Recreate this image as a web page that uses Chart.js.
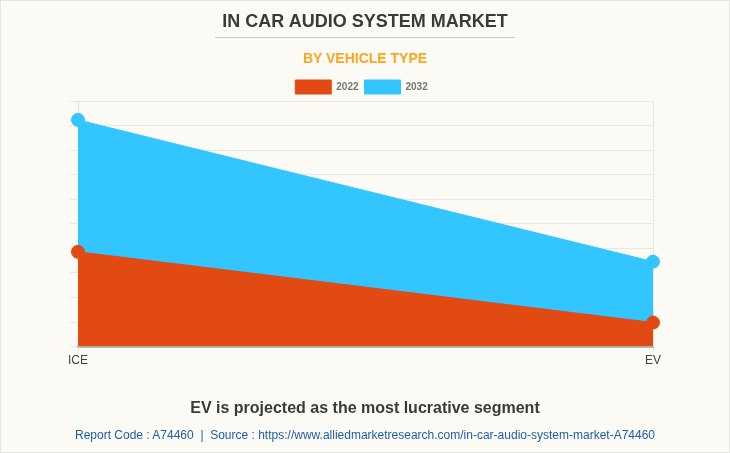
<!DOCTYPE html>
<html>
<head>
<meta charset="utf-8">
<title>In Car Audio System Market</title>
<script src="https://cdn.jsdelivr.net/npm/chart.js@4"></script>
<style>
  html, body { margin: 0; padding: 0; background: #fbfaf5; }
  #page { position: relative; width: 730px; height: 453px; box-sizing: border-box; border: 1px solid #e4e4e4; overflow: hidden; font-family: "Liberation Sans", Arial, sans-serif; }
  #chartWrap { position: absolute; left: -1px; top: -1px; width: 730px; height: 453px; }
  .line { position: absolute; left: 0; width: 728px; text-align: center; white-space: nowrap; }
  #title { top: 10px; font-size: 18px; font-weight: bold; color: #3a3a3a; }
  #rule { position: absolute; left: 214px; top: 36px; width: 300px; height: 1px; background: #cfcdc8; }
  #subtitle { top: 49px; font-size: 14px; font-weight: bold; color: #faa71e; }
  #note { top: 398px; font-size: 16px; font-weight: bold; color: #3a3a3a; }
  #source { top: 427px; font-size: 12px; color: #1f5fa8; }
</style>
</head>
<body>
<div id="page">
  <div id="chartWrap"><canvas id="marketChart"></canvas></div>
  <div class="line" id="title">IN CAR AUDIO SYSTEM MARKET</div>
  <div id="rule"></div>
  <div class="line" id="subtitle">BY VEHICLE TYPE</div>
  <div class="line" id="note">EV is projected as the most lucrative segment</div>
  <div class="line" id="source">Report Code : A74460&nbsp; |&nbsp; Source : https://www.alliedmarketresearch.com/in-car-audio-system-market-A74460</div>
</div>
<script>
// Values, the y axis has no labels so the units are arbitrary
const categories = ['ICE', 'EV'];
const values2022 = [3.86, 0.98];
const values2032 = [9.23, 3.46];
const yTicks = [0, 1, 2, 3, 4, 5, 6, 7, 8, 9, 10];

const orange = '#e24a14';
const blue = '#33c5ff';

// Legend reserves a bit too much height, pull the plot up under it
const tightLegend = {
    id: 'tightLegend',
    beforeInit(chart) {
        const fit = chart.legend.fit;
        chart.legend.fit = function () {
            fit.call(this);
            this.height -= 3;
        };
    }
};

new Chart(document.getElementById('marketChart'), {
    type: 'line',
    plugins: [tightLegend],
    data: {
        labels: categories,
        datasets: [
            { label: '2022', data: values2022, backgroundColor: orange, borderColor: orange, fill: 'origin', clip: false },
            { label: '2032', data: values2032, backgroundColor: blue, borderColor: blue, fill: 'origin', clip: false }
        ]
    },
    options: {
        responsive: true,
        maintainAspectRatio: false,
        animation: false,
        layout: { padding: { top: 74, left: 70, right: 77, bottom: 85 } },
        elements: {
            line: { tension: 0, borderWidth: 1 },
            point: { radius: 6.5, hoverRadius: 6.5, borderWidth: 1 }
        },
        plugins: {
            tooltip: { enabled: false },
            legend: {
                position: 'top',
                labels: {
                    boxWidth: 36,
                    boxHeight: 14,
                    padding: 6,
                    color: '#777777',
                    font: { family: '"Liberation Sans", Arial, sans-serif', size: 10, weight: 'bold' }
                }
            }
        },
        scales: {
            x: {
                border: { color: '#bdb9b2', width: 2 },
                grid: { color: '#e8e7e2', tickLength: 7 },
                ticks: {
                    color: '#444444',
                    padding: 0,
                    maxRotation: 0,
                    font: { family: '"Liberation Sans", Arial, sans-serif', size: 12 }
                }
            },
            y: {
                min: 0,
                max: 10,
                afterBuildTicks: axis => { axis.ticks = yTicks.map(value => ({ value })); },
                border: { color: '#e0dfda' },
                grid: { color: '#e8e7e2', tickLength: 8 },
                ticks: { callback: () => '', padding: 0 }
            }
        }
    }
});
</script>
</body>
</html>
